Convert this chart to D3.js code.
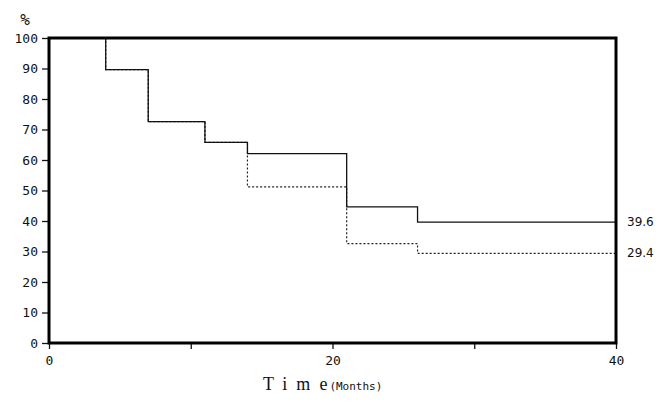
<!DOCTYPE html>
<html><head><meta charset="utf-8">
<style>
body { margin: 0; background: #fff; }
.axis text { font-family: "DejaVu Sans Mono", monospace; font-size: 13px; fill: #111; }
.axis path { display: none; }
.axis line { stroke: #111; stroke-width: 1.3; }
</style>
</head><body>
<svg width="659" height="413"></svg>
<script src="https://d3js.org/d3.v7.min.js"></script>
<script>

// survival curves (% vs months), step changes
var months = [0, 4, 7, 11, 14, 21, 26, 40];
var groupA = [100, 89.6, 72.6, 65.8, 62.1, 44.6, 39.6, 39.6];
var groupB = [100, 89.6, 72.6, 65.8, 51.2, 32.6, 29.4, 29.4];
var yTicks = [0, 10, 20, 30, 40, 50, 60, 70, 80, 90, 100];
var xTicks = [0, 10, 20, 30, 40];
var xLabels = [0, 20, 40];
var endLabels = ["39.6", "29.4"];

var svg = d3.select("svg"),
    margin = {top: 38, right: 43, bottom: 70, left: 49},
    width = +svg.attr("width") - margin.left - margin.right,
    height = +svg.attr("height") - margin.top - margin.bottom;

var x = d3.scaleLinear().domain([0, 40]).range([0, width]),
    y = d3.scaleLinear().domain([0, 100]).range([height, 0]);

var g = svg.append("g")
    .attr("transform", "translate(" + margin.left + "," + margin.top + ")");

g.append("g")
    .attr("class", "axis axis--y")
    .call(d3.axisLeft(y).tickValues(yTicks).tickSize(7).tickPadding(4).tickFormat(d3.format("d")));

g.append("g")
    .attr("class", "axis axis--x")
    .attr("transform", "translate(0," + height + ")")
    .call(d3.axisBottom(x).tickValues(xTicks).tickSize(6).tickPadding(7)
      .tickFormat(function(d) { return xLabels.indexOf(d) >= 0 ? d : ""; }));

var line = d3.line()
    .x(function(d, i) { return x(months[i]); })
    .y(function(d) { return y(d); })
    .curve(d3.curveStepAfter);

g.append("path")
    .datum(groupB)
    .attr("fill", "none")
    .attr("stroke", "#222")
    .attr("stroke-width", 1.2)
    .attr("stroke-dasharray", "2,2")
    .attr("d", line);

g.append("path")
    .datum(groupA)
    .attr("fill", "none")
    .attr("stroke", "#111")
    .attr("stroke-width", 1.3)
    .attr("d", line);

// frame
g.append("rect")
    .attr("x", 0).attr("y", 0)
    .attr("width", width).attr("height", height)
    .attr("fill", "none")
    .attr("stroke", "#000")
    .attr("stroke-width", 3);

g.selectAll(".endlabel")
    .data(endLabels)
    .enter().append("text")
      .attr("class", "endlabel")
      .attr("x", width + 11)
      .attr("y", function(d) { return y(+d) + 4; })
      .attr("font-family", "DejaVu Sans, sans-serif")
      .attr("font-size", 12)
      .attr("fill", "#111")
      .text(function(d) { return d; });

svg.append("text")
    .attr("x", 25).attr("y", 25)
    .attr("text-anchor", "middle")
    .attr("font-family", "DejaVu Sans Mono, monospace")
    .attr("font-size", 16)
    .attr("fill", "#111")
    .text("%");

var title = svg.append("text")
    .attr("x", 263).attr("y", 390)
    .attr("fill", "#111");
title.append("tspan")
    .attr("font-family", "Liberation Serif, serif")
    .attr("font-size", 18)
    .attr("letter-spacing", 9)
    .text("Tim");
title.append("tspan")
    .attr("font-family", "Liberation Serif, serif")
    .attr("font-size", 18)
    .attr("letter-spacing", 2)
    .text("e");
title.append("tspan")
    .attr("font-family", "DejaVu Sans Mono, monospace")
    .attr("font-size", 11)
    .text("(Months)");

</script>
</body></html>
